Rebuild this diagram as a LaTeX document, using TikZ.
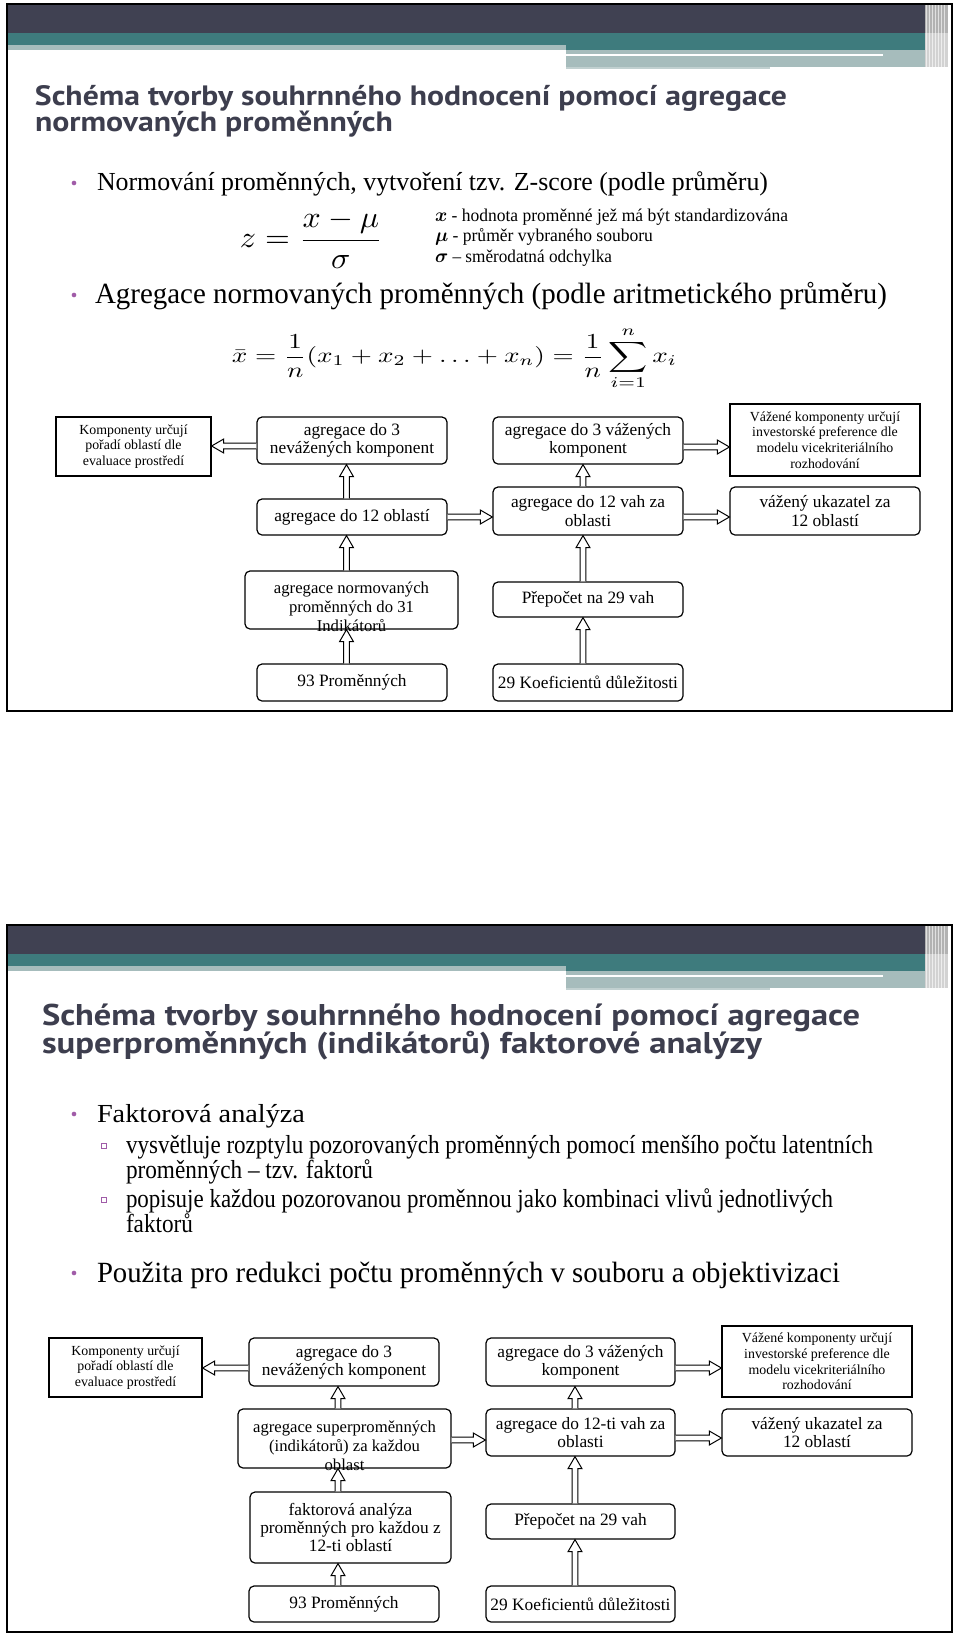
\documentclass[tikz,border=0pt]{standalone}
\usepackage{fontspec}
\usepackage{amsmath}
\setmainfont{Liberation Serif}
\newfontfamily\ttlfont{PT Sans}
\usetikzlibrary{calc}
\definecolor{hdark}{HTML}{404152}
\definecolor{hteal}{HTML}{3E7B7D}
\definecolor{hlight}{HTML}{A6BCBC}
\definecolor{ttlc}{HTML}{3D3E4E}
\definecolor{bulc}{HTML}{A05CA8}
% block arrow between two coordinates
\newcommand\barr[2]{%
  \coordinate (bA) at (#1);
  \coordinate (bB) at (#2);
  \coordinate (bQ) at ($(bB)!9pt!(bA)$);
  \filldraw[arr] ($(bA)!2.1pt!90:(bB)$) -- ($(bQ)!2.1pt!-90:(bA)$) -- ($(bQ)!5.2pt!-90:(bA)$) -- (bB)
     -- ($(bQ)!5.2pt!90:(bA)$) -- ($(bQ)!2.1pt!90:(bA)$) -- ($(bA)!2.1pt!-90:(bB)$);
}
\newcommand\hdr[1]{%
  \fill[hdark] (8,#1+4) rectangle (925,#1+33);
  \fill[hteal] (8,#1+33) rectangle (925,#1+45);
  \fill[hlight] (8,#1+45) rectangle (566,#1+50);
  \fill[hteal] (566,#1+45) rectangle (925,#1+50);
  \fill[hlight] (566,#1+50) rectangle (935,#1+67);
  \fill[white] (566,#1+53.5) rectangle (883,#1+56);
  \fill[hlight!70] (566,#1+67) rectangle (770,#1+69);
  \fill[gray!60] (925,#1+4) rectangle (948,#1+33);
  \fill[gray!35] (925,#1+33) rectangle (948,#1+67);
  \foreach \xx in {926.5,929.5,...,947} \draw[white, line width=0.6pt, opacity=.6] (\xx,#1+4) -- (\xx,#1+67);
}
\begin{document}
\begin{tikzpicture}[x=0.75pt,y=-0.75pt,
  wh/.style 2 args={minimum width=#1*0.75pt, minimum height=#2*0.75pt},
  rbox/.style={draw, rounded corners=3.75pt, line width=0.9pt, align=center, inner sep=0pt, font=\fontsize{13}{13.6}\selectfont},
  sbox/.style={draw, line width=0.9pt, align=center, inner sep=0pt, font=\fontsize{10.4}{11.8}\selectfont},
  otxt/.style={align=center, inner sep=0pt, font=\fontsize{12.5}{14.2}\selectfont},
  txt/.style={anchor=base west, inner sep=0pt, outer sep=0pt},
  ttl/.style={txt, text=ttlc},
  bul/.style={fill=bulc, draw=none, circle, inner sep=0pt, minimum size=3.5pt},
  sq/.style={draw=bulc, line width=0.6pt, inner sep=0pt, minimum size=3.6pt},
  arr/.style={fill=white, draw=black, line width=0.75pt, line join=miter}
]
\useasboundingbox (0,0) rectangle (960,1635);
\fill[white] (0,0) rectangle (960,1635);

% ================= SLIDE 1 =================
\hdr{0}
\draw[line width=1.9pt] (7,4) rectangle (952,711);

\node[ttl] (t1a) at (35,105) {\resizebox{564pt}{\height}{\ttlfont\bfseries\fontsize{21}{23}\selectfont Schéma tvorby souhrnného hodnocení pomocí agregace}};
\node[ttl] (t1b) at (35,131) {\resizebox{268.5pt}{\height}{\ttlfont\bfseries\fontsize{21}{23}\selectfont normovaných proměnných}};

\node[bul] (d1) at (74,183) {};
\node[txt] (b1) at (97,190) {\resizebox{503.25pt}{\height}{\fontsize{19.5}{22}\selectfont Normování proměnných, vytvoření tzv. Z-score (podle průměru)}};

\node[inner sep=0pt] (f1) at (311.5,239) {\resizebox*{107.25pt}{44pt}{$\displaystyle z = \frac{x-\mu}{\sigma}$}};

\node[txt] (l1) at (435,221) {\resizebox{264.75pt}{\height}{\fontsize{13.5}{15}\selectfont $\boldsymbol{x}$ - hodnota proměnné jež má být standardizována}};
\node[txt] (l2) at (435,241) {\resizebox{163.5pt}{\height}{\fontsize{13.5}{15}\selectfont $\boldsymbol{\mu}$ - průměr vybraného souboru}};
\node[txt] (l3) at (435,262) {\resizebox{132.75pt}{\height}{\fontsize{13.5}{15}\selectfont $\boldsymbol{\sigma}$ – směrodatná odchylka}};

\node[bul] (d2) at (74,295) {};
\node[txt] (b2) at (95,303) {\resizebox{594pt}{\height}{\fontsize{22}{24}\selectfont Agregace normovaných proměnných (podle aritmetického průměru)}};

\node[inner sep=0pt] (f2) at (454.5,358.5) {\resizebox*{333.75pt}{47pt}{$\displaystyle \bar{x} = \frac{1}{n}(x_1+x_2+\ldots+x_n) = \frac{1}{n}\sum_{i=1}^{n} x_i$}};

\node[sbox, wh={155}{59}] (K1) at (133.5,446.5) {Komponenty určují\\pořadí oblastí dle\\evaluace prostředí};
\node[rbox, wh={190}{47}] (N1) at (352,440.5) {agregace do 3\\nevážených komponent};
\node[rbox, wh={190}{47}] (V1) at (588,440.5) {agregace do 3 vážených\\komponent};
\node[sbox, wh={190}{72}] (W1) at (825,440) {Vážené komponenty určují\\investorské preference dle\\modelu vicekriteriálního\\rozhodování};
\node[rbox, wh={190}{36}] (O1) at (352,517) {agregace do 12 oblastí};
\node[rbox, wh={190}{48}] (H1) at (588,511) {agregace do 12 vah za\\oblasti};
\node[rbox, wh={190}{48}] (U1) at (825,511) {vážený ukazatel za\\12 oblastí};
\node[rbox, wh={213}{58}] (A1) at (351.5,600) {};
\node[otxt] (A1t) at (351.5,607) {agregace normovaných\\proměnných do 31\\Indikátorů};
\node[rbox, wh={190}{35}] (P1) at (588,599.5) {Přepočet na 29 vah};
\node[rbox, wh={190}{37}] (M1) at (352,682.5) {93 Proměnných};
\node[rbox, wh={190}{37}] (C1) at (588,682.5) {29 Koeficientů důležitosti};

\barr{$(N1.west)+(0,5.5)$}{K1.east |- bA}
\barr{$(V1.east)+(0,6.5)$}{W1.west |- bA}
\barr{$(O1.east)$}{H1.west |- bA}
\barr{$(H1.east)+(0,6)$}{U1.west |- bA}
\barr{$(O1.north)+(-5.5,0)$}{N1.south -| bA}
\barr{$(A1.north)+(-5,0)$}{O1.south -| bA}
\barr{$(M1.north)+(-5.5,0)$}{A1.south -| bA}
\barr{$(H1.north)+(-5,0)$}{V1.south -| bA}
\barr{$(P1.north)+(-5,0)$}{H1.south -| bA}
\barr{$(C1.north)+(-5,0)$}{P1.south -| bA}

% ================= SLIDE 2 =================
\hdr{921}
\draw[line width=1.9pt] (7,925) rectangle (952,1632);

\node[ttl] (t2a) at (42,1025) {\resizebox{613.5pt}{\height}{\ttlfont\bfseries\fontsize{22.5}{25}\selectfont Schéma tvorby souhrnného hodnocení pomocí agregace}};
\node[ttl] (t2b) at (42,1053) {\resizebox{540pt}{\height}{\ttlfont\bfseries\fontsize{22.5}{25}\selectfont superproměnných (indikátorů) faktorové analýzy}};

\node[bul] (d3) at (74,1114) {};
\node[txt] (c1) at (97,1122) {\resizebox{156pt}{\height}{\fontsize{19.5}{22}\selectfont Faktorová analýza}};
\node[sq] (s1) at (104,1146) {};
\node[txt] (c2) at (126,1153) {\resizebox{560.25pt}{\height}{\fontsize{19.5}{22}\selectfont vysvětluje rozptylu pozorovaných proměnných pomocí menšího počtu latentních}};
\node[txt] (c3) at (126,1178) {\resizebox{185.25pt}{\height}{\fontsize{19.5}{22}\selectfont proměnných – tzv. faktorů}};
\node[sq] (s2) at (104,1200) {};
\node[txt] (c4) at (126,1207) {\resizebox{530.25pt}{\height}{\fontsize{19.5}{22}\selectfont popisuje každou pozorovanou proměnnou jako kombinaci vlivů jednotlivých}};
\node[txt] (c5) at (126,1232) {\resizebox{50.25pt}{\height}{\fontsize{19.5}{22}\selectfont faktorů}};
\node[bul] (d4) at (74,1273) {};
\node[txt] (c6) at (97,1282) {\resizebox{557.25pt}{\height}{\fontsize{22}{24}\selectfont Použita pro redukci počtu proměnných v souboru a objektivizaci}};

\node[sbox, wh={153}{59}] (K2) at (125.5,1367.5) {Komponenty určují\\pořadí oblastí dle\\evaluace prostředí};
\node[rbox, wh={190}{48}] (N2) at (344,1362) {agregace do 3\\nevážených komponent};
\node[rbox, wh={189}{48}] (V2) at (580.5,1362) {agregace do 3 vážených\\komponent};
\node[sbox, wh={190}{71}] (W2) at (817,1361.5) {Vážené komponenty určují\\investorské preference dle\\modelu vicekriteriálního\\rozhodování};
\node[rbox, wh={213}{59}] (S2) at (344.5,1438.5) {};
\node[otxt] (S2t) at (344.5,1445.5) {agregace superproměnných\\(indikátorů) za každou\\oblast};
\node[rbox, wh={189}{47}] (H2) at (580.5,1432.5) {agregace do 12-ti vah za\\oblasti};
\node[rbox, wh={190}{47}] (U2) at (817,1432.5) {vážený ukazatel za\\12 oblastí};
\node[rbox, wh={201}{71}] (F2) at (350.5,1527.5) {faktorová analýza\\proměnných pro každou z\\12-ti oblastí};
\node[rbox, wh={189}{35}] (P2) at (580.5,1521.5) {Přepočet na 29 vah};
\node[rbox, wh={190}{36}] (M2) at (344,1604) {93 Proměnných};
\node[rbox, wh={189}{36}] (C2) at (580.5,1604) {29 Koeficientů důležitosti};

\barr{$(N2.west)+(0,6)$}{K2.east |- bA}
\barr{$(V2.east)+(0,6)$}{W2.west |- bA}
\barr{$(S2.east)+(0,1.5)$}{H2.west |- bA}
\barr{$(H2.east)+(0,5.5)$}{U2.west |- bA}
\barr{$(S2.north)+(-6.5,0)$}{N2.south -| bA}
\barr{$(F2.north)+(-12.5,0)$}{S2.south -| bA}
\barr{$(M2.north)+(-6,0)$}{F2.south -| bA}
\barr{$(H2.north)+(-5.5,0)$}{V2.south -| bA}
\barr{$(P2.north)+(-5.5,0)$}{H2.south -| bA}
\barr{$(C2.north)+(-5.5,0)$}{P2.south -| bA}
\end{tikzpicture}
\end{document}
